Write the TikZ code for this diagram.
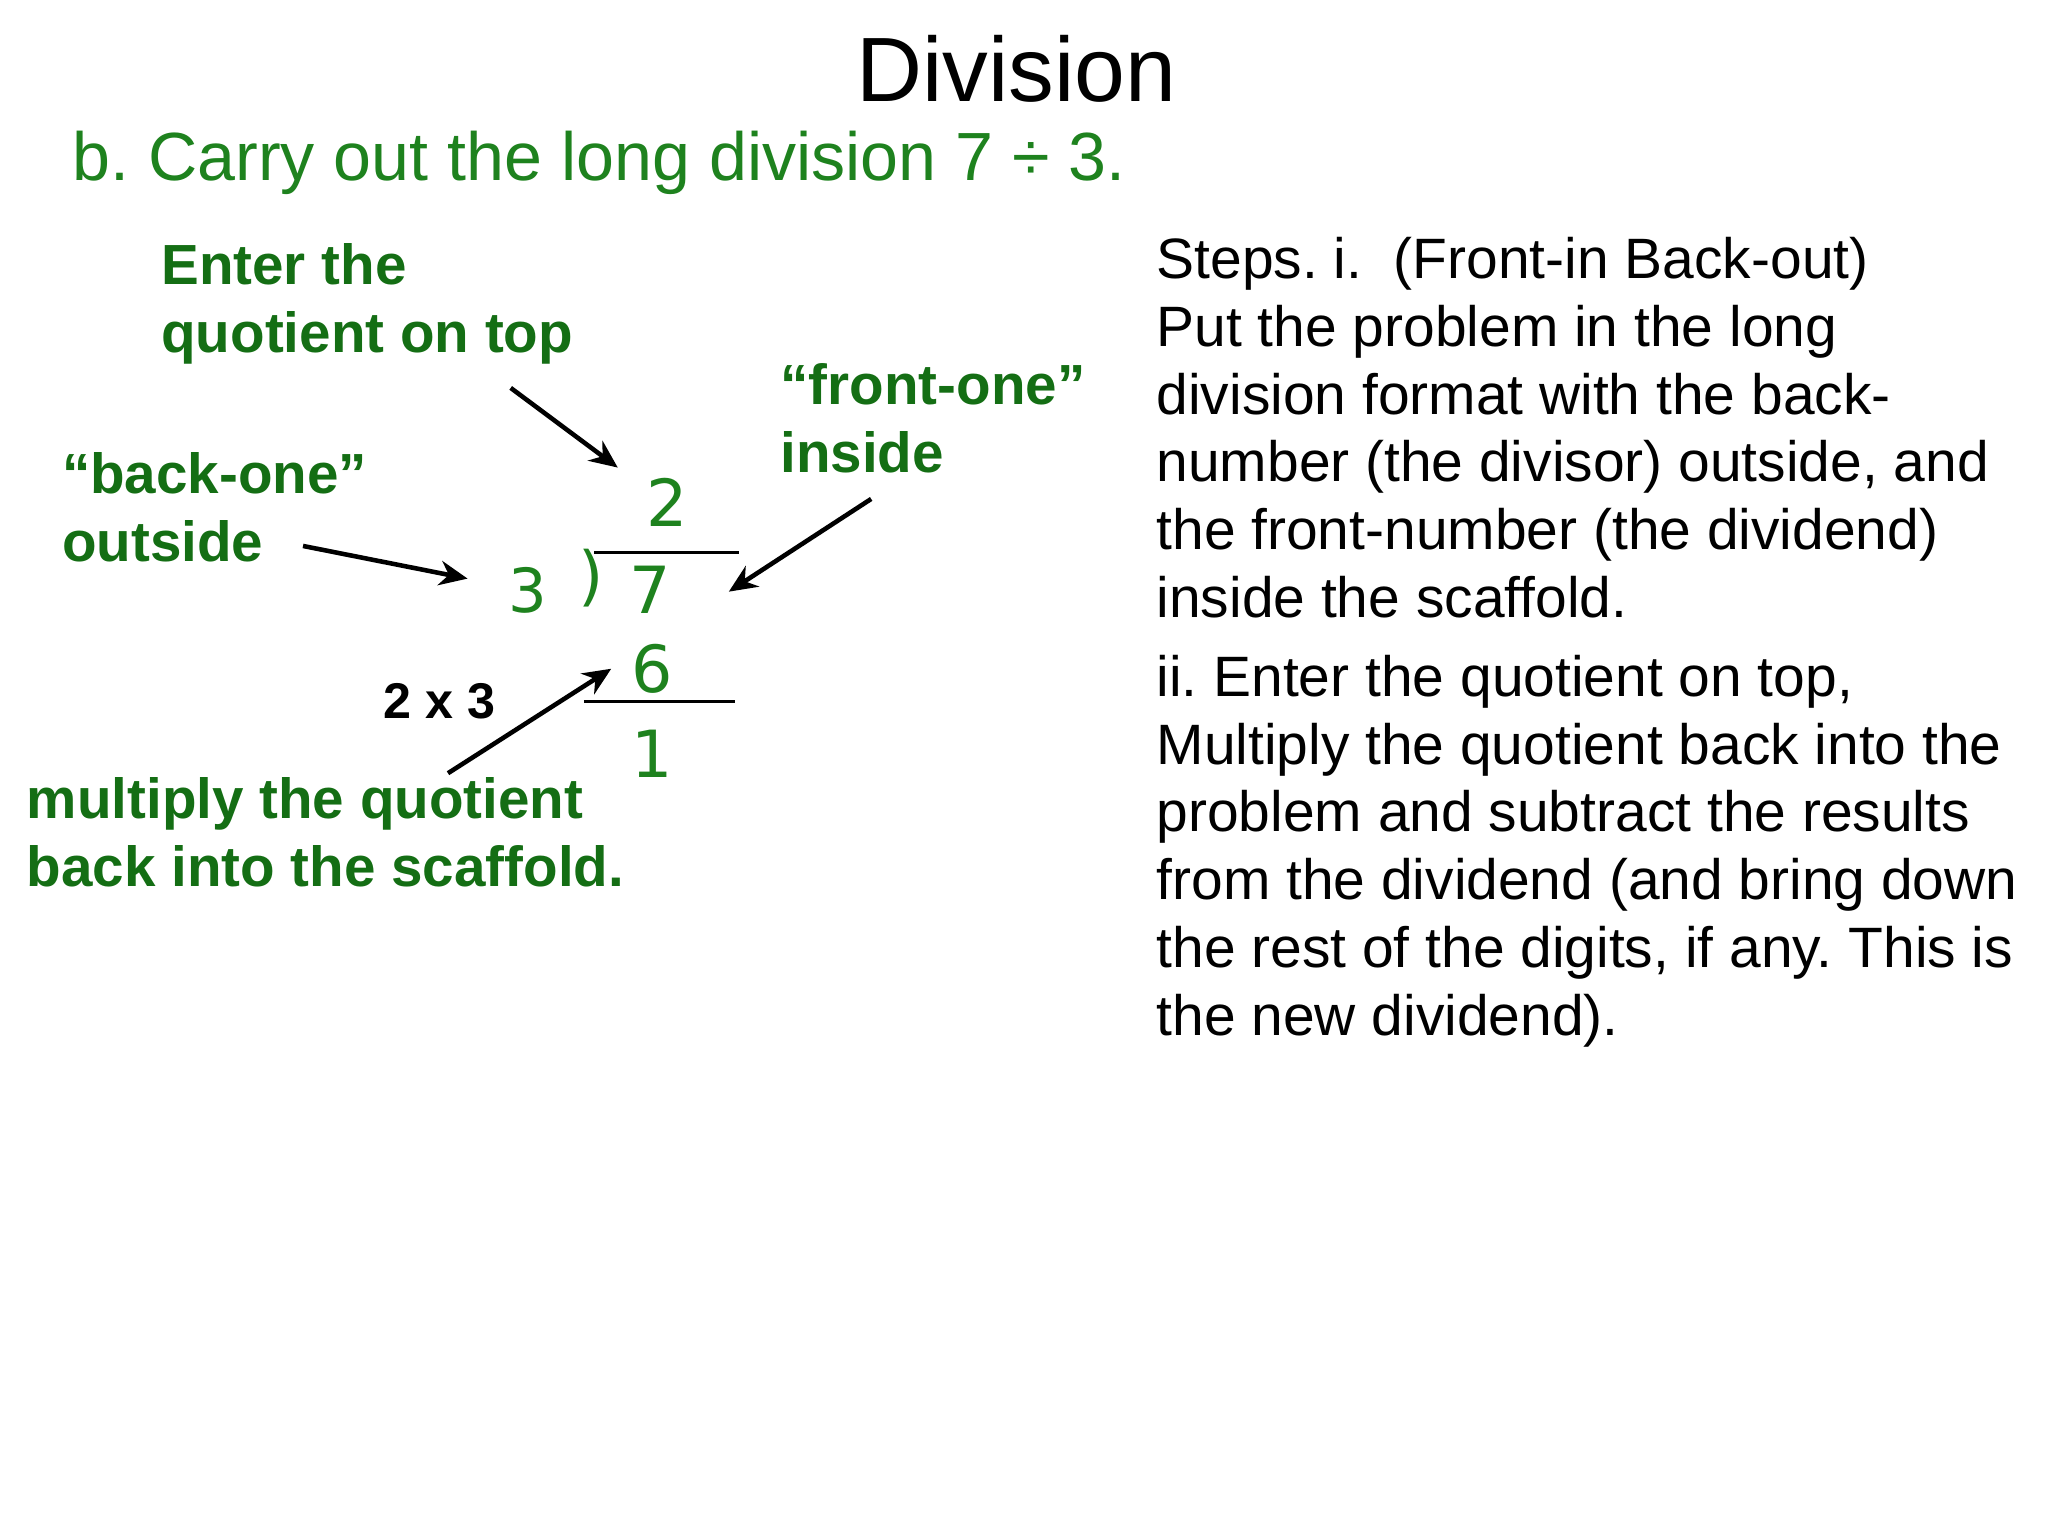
\documentclass[tikz,border=0pt]{standalone}
\usepackage{fontspec}
\setmainfont{Liberation Sans}
\newfontfamily\digfont{DejaVu Sans}
\definecolor{gr}{RGB}{20,110,20}
\definecolor{grs}{RGB}{30,130,30}
\usetikzlibrary{arrows.meta}
\tikzset{
 txt/.style={anchor=base west,inner sep=0pt,font=\fontsize{16.2}{19}\selectfont},
 lab/.style={anchor=base west,inner sep=0pt,text=gr,font=\fontsize{16.1}{19}\selectfont\bfseries},
 dig/.style={anchor=base,inner sep=0pt,text=grs,font=\digfont\fontsize{18.5}{21}\selectfont},
 arr/.style={-{Stealth[length=8pt,width=7pt]},line width=1.3pt},
}
\frenchspacing
\begin{document}
\begin{tikzpicture}[x=0.01306cm,y=-0.01306cm]
\useasboundingbox (0,0) rectangle (1568,1176);
\node[anchor=base,inner sep=0pt,font=\fontsize{26}{28}\selectfont] (title) at (778,78) {Division};
\node[anchor=base west,inner sep=0pt,text=grs,font=\fontsize{19.4}{22}\selectfont] (sub) at (55,138) {b. Carry out the long division 7 ÷ 3.};
\foreach \t [count=\i] in {{Steps. i.\ \ (Front-in Back-out)},{Put the problem in the long},{division format with the back-},{number (the divisor) outside, and},{the front-number (the dividend)},{inside the scaffold.}}
  \node[txt] (s\i) at (885,{213+52*(\i-1)}) {\t};
\foreach \t [count=\i] in {{ii. Enter the quotient on top,},{Multiply the quotient back into the},{problem and subtract the results},{from the dividend (and bring down},{the rest of the digits, if any. This is},{the new dividend).}}
  \node[txt] (t\i) at (885,{533+52*(\i-1)}) {\t};
\node[lab] (e1) at (123,218) {Enter the};
\node[lab] (e2) at (123,270) {quotient on top};
\node[lab] (f1) at (597,310) {“front-one”};
\node[lab] (f2) at (597,362) {inside};
\node[lab] (b1) at (47,378) {“back-one”};
\node[lab] (b2) at (47,430) {outside};
\node[lab] (m1) at (20,627) {multiply the quotient};
\node[lab] (m2) at (20,679) {back into the scaffold.};
\node[anchor=base west,inner sep=0pt,font=\fontsize{14.3}{17}\selectfont\bfseries] (mx) at (293,550) {2 x 3};
\node[dig] (q) at (511,403) {2};
\node[dig,font=\digfont\fontsize{17.3}{20}\selectfont] (d) at (404,469) {3};
\node[dig] (p) at (453,458) {)};
\node[dig] (n) at (498,470) {7};
\node[dig] (six) at (499,530) {6};
\node[dig] (r) at (499,595) {1};
\coordinate (l1a) at (455,423); \coordinate (l1b) at (566,423);
\coordinate (l2a) at (447,537); \coordinate (l2b) at (563,537);
\draw[line width=0.8pt] (l1a) -- (l1b);
\draw[line width=0.8pt] (l2a) -- (l2b);
\coordinate (a1) at (391,297); \coordinate (a1e) at (473,358);
\coordinate (a2) at (232,418); \coordinate (a2e) at (358,443);
\coordinate (a3) at (667,382); \coordinate (a3e) at (558,453);
\coordinate (a4) at (343,592); \coordinate (a4e) at (468,512);
\draw[arr] (a1) -- (a1e);
\draw[arr] (a2) -- (a2e);
\draw[arr] (a3) -- (a3e);
\draw[arr] (a4) -- (a4e);
\end{tikzpicture}
\end{document}
